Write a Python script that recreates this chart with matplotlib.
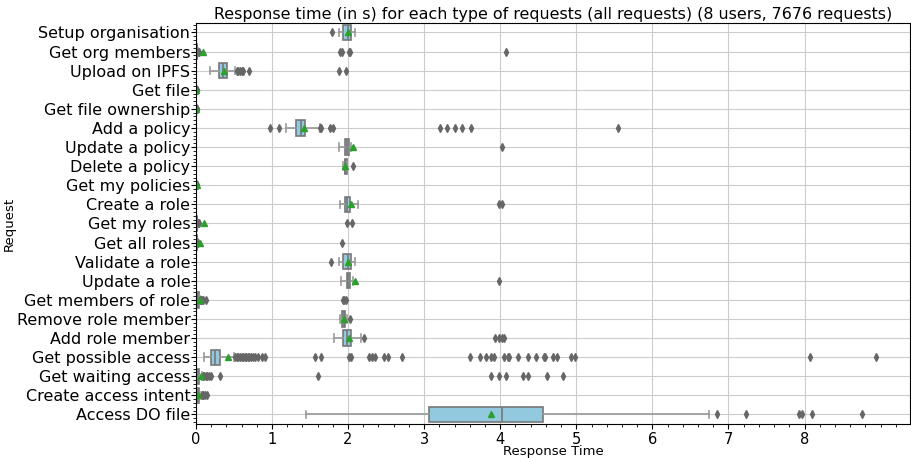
import matplotlib
matplotlib.use("Agg")
import matplotlib.pyplot as plt

categories = ["Setup organisation", "Get org members", "Upload on IPFS", "Get file",
              "Get file ownership", "Add a policy", "Update a policy", "Delete a policy",
              "Get my policies", "Create a role", "Get my roles", "Get all roles",
              "Validate a role", "Update a role", "Get members of role",
              "Remove role member", "Add role member", "Get possible access",
              "Get waiting access", "Create access intent", "Access DO file"]

q1 = [1.933, 0.005, 0.306, 0.003, 0.003, 1.312, 1.955, 1.955, 0.003, 1.955, 0.005, 0.005,
      1.933, 1.98, 0.01, 1.92, 1.94, 0.193, 0.005, 0.005, 3.07]
medians = [1.995, 0.01, 0.358, 0.005, 0.005, 1.387, 1.99, 1.965, 0.005, 1.99, 0.01, 0.01,
           1.995, 2.0, 0.02, 1.945, 1.99, 0.254, 0.02, 0.02, 4.03]
q3 = [2.034, 0.015, 0.407, 0.008, 0.008, 1.430, 2.017, 1.98, 0.008, 2.025, 0.015, 0.015,
      2.034, 2.03, 0.035, 1.965, 2.034, 0.319, 0.04, 0.04, 4.56]
whislo = [1.88, 0.0, 0.19, 0.001, 0.001, 1.18, 1.88, 1.94, 0.001, 1.90, 0.0, 0.0,
          1.88, 1.91, 0.0, 1.90, 1.815, 0.105, 0.0, 0.0, 1.45]
whishi = [2.09, 0.025, 0.52, 0.012, 0.012, 1.627, 2.04, 1.99, 0.012, 2.13, 0.025, 0.025,
          2.09, 2.06, 0.055, 1.98, 2.175, 0.50, 0.085, 0.07, 6.75]
means = [1.995, 0.096, 0.365, 0.008, 0.008, 1.42, 2.07, 1.965, 0.01, 2.034, 0.11, 0.06,
         1.995, 2.09, 0.06, 1.945, 2.01, 0.416, 0.066, 0.03, 3.88]
fliers = [
    [1.79],
    [0.03, 0.04, 1.90, 1.92, 2.01, 2.03, 4.07],
    [0.54, 0.56, 0.58, 0.60, 0.62, 0.70, 1.88, 1.97],
    [0.015, 0.02],
    [0.015, 0.02],
    [0.98, 1.09, 1.63, 1.65, 1.76, 1.80, 3.21, 3.30, 3.40, 3.50, 3.61, 5.55],
    [4.03],
    [2.065],
    [0.015, 0.02],
    [3.98, 4.02],
    [0.03, 0.035, 1.99, 2.05],
    [0.03, 1.925],
    [1.78],
    [3.98],
    [0.06, 0.07, 0.08, 0.10, 0.13, 1.93, 1.95, 1.97],
    [2.03],
    [2.205, 3.93, 3.98, 4.02, 4.05],
    [0.52, 0.54, 0.56, 0.58, 0.60, 0.62, 0.64, 0.66, 0.68, 0.70, 0.72, 0.75, 0.78,
     0.82, 0.875, 0.905, 1.56, 1.65, 2.01, 2.04, 2.28, 2.31, 2.36, 2.47, 2.53, 2.71,
     3.60, 3.73, 3.81, 3.88, 3.92, 4.05, 4.10, 4.12, 4.24, 4.36, 4.47, 4.57, 4.59,
     4.70, 4.75, 4.93, 4.98, 8.07, 8.94],
    [0.09, 0.11, 0.13, 0.15, 0.17, 0.20, 0.315, 1.60, 3.88, 3.98, 4.07, 4.30, 4.36,
     4.62, 4.83],
    [0.075, 0.09, 0.10, 0.12, 0.15],
    [6.85, 7.23, 7.93, 7.97, 8.10, 8.75],
]

title = "Response time (in s) for each type of requests (all requests) (8 users, 7676 requests)"

stats = []
for i, c in enumerate(categories):
    stats.append(dict(label=c, q1=q1[i], med=medians[i], q3=q3[i], whislo=whislo[i],
                      whishi=whishi[i], mean=means[i], fliers=fliers[i]))

fig = plt.figure(figsize=(9.11, 4.58), dpi=100)
ax = fig.add_axes([0.215, 0.0742, 0.784, 0.8758])

box_color = "#93C9DE"
line_color = "#777777"
positions = list(range(len(categories)))
ax.bxp(stats, positions=positions, vert=False, widths=0.8, showmeans=True,
       patch_artist=True, manage_ticks=False,
       boxprops=dict(facecolor=box_color, edgecolor=line_color, linewidth=1.2),
       whiskerprops=dict(color="#999999", linewidth=1.2),
       capprops=dict(color="#999999", linewidth=1.2),
       medianprops=dict(color=line_color, linewidth=1.2),
       meanprops=dict(marker="^", markerfacecolor="#2ca02c", markeredgecolor="#2ca02c",
                      markersize=5),
       flierprops=dict(marker="d", markerfacecolor="#666666", markeredgecolor="#666666",
                       markersize=3.6))

ax.set_yticks(positions)
ax.set_yticklabels(categories, fontsize=11.5)
ax.set_ylim(len(categories) - 0.5, -0.5)
ax.set_xlim(0, 8.94 * 1.05)
ax.set_xticks(range(0, 9))
ax.tick_params(axis="x", labelsize=10.5, pad=2)
ax.tick_params(axis="y", pad=0.5)
ax.minorticks_on()
ax.grid(True, which="major", color="#cccccc", linewidth=0.8)
ax.set_axisbelow(True)
ax.set_xlabel("Response Time", fontsize=9.5, labelpad=-1)
ax.set_ylabel("Request", fontsize=9.5)
ax.yaxis.set_label_coords(-0.252, 0.5)
ax.set_title(title, fontsize=11.4, pad=3)

fig.savefig("out.png", dpi=100)
